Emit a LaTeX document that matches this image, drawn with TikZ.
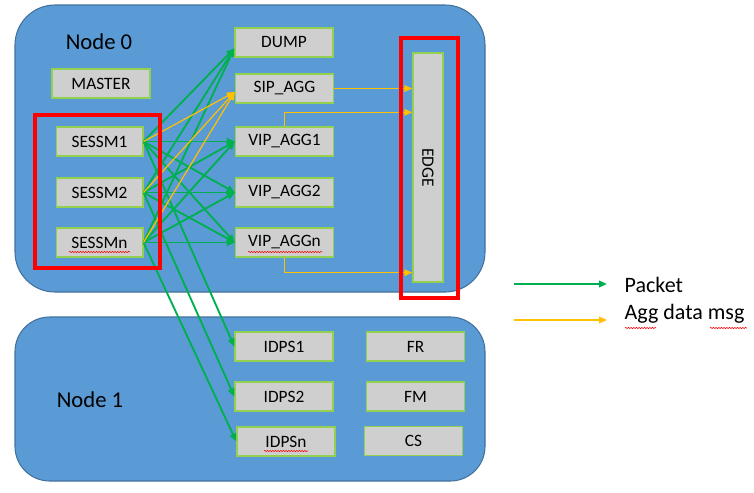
\documentclass[tikz,border=0pt]{standalone}
\usepackage{fontspec}
\setmainfont{Carlito}
\usetikzlibrary{arrows.meta,calc,decorations.pathmorphing}
\definecolor{nodeblue}{HTML}{5B9BD5}
\definecolor{nodeborder}{HTML}{41719C}
\definecolor{boxgray}{HTML}{CFCFCF}
\definecolor{boxborder}{HTML}{92D050}
\definecolor{pktgreen}{HTML}{00B050}
\definecolor{aggyellow}{HTML}{FFC000}
\definecolor{redmark}{HTML}{FF0000}
\tikzset{
  hostbox/.style={fill=nodeblue, draw=nodeborder, line width=0.8pt},
  procbox/.style={rectangle, fill=boxgray, draw=boxborder, line width=1pt,
    minimum width=73.5pt, minimum height=21.75pt, inner sep=0pt,
    font=\fontsize{13}{15}\selectfont},
  hostlabel/.style={font=\fontsize{17}{20}\selectfont},
  pkt/.style={draw=pktgreen, line width=1.4pt, -{Triangle[length=6pt,width=5pt]}},
  agg/.style={draw=aggyellow, line width=0.9pt, -{Triangle[length=6pt,width=5pt]}},
  redbox/.style={draw=redmark, line width=2.3pt},
  legendtext/.style={anchor=west, font=\fontsize{16.5}{19}\selectfont},
  spell/.style={draw=redmark, line width=0.4pt, decorate,
    decoration={snake, amplitude=0.5pt, segment length=2pt}}
}
\begin{document}
\begin{tikzpicture}[x=0.75pt,y=-0.75pt]
\useasboundingbox (0,0) rectangle (754,493);
\fill[white] (0,0) rectangle (754,493);
% host boxes
\draw[hostbox, rounded corners=30pt] (15,5) rectangle (485,292);
\draw[hostbox, rounded corners=26pt] (15,317) rectangle (485,481);
\node[hostlabel] (n0) at (99,42) {Node 0};
\node[hostlabel] (n1) at (90,400) {Node 1};
% node 0 processes
\node[procbox] (master) at (101,83.5) {MASTER};
\node[procbox, minimum width=65pt] (s1) at (99.5,141.5) {SESSM1};
\node[procbox, minimum width=65pt] (s2) at (99.5,192.5) {SESSM2};
\node[procbox, minimum width=65pt] (sn) at (99.5,242.5) {SESSMn};
\node[procbox] (dump) at (284,42.5) {DUMP};
\node[procbox] (sip) at (284.5,88.5) {SIP\_AGG};
\node[procbox] (v1) at (284.5,141.5) {VIP\_AGG1};
\node[procbox] (v2) at (284.5,192.5) {VIP\_AGG2};
\node[procbox] (vn) at (284.5,242.5) {VIP\_AGGn};
\node[procbox, minimum width=22.5pt, minimum height=171.75pt] (edge) at (428,167.5) {};
\node[rotate=-90, font=\fontsize{13}{15}\selectfont] (edgelbl) at (edge.center) {EDGE};
% node 1 processes
\node[procbox] (i1) at (284,346.5) {IDPS1};
\node[procbox] (i2) at (284,396.5) {IDPS2};
\node[procbox] (in) at (286,441.5) {IDPSn};
\node[procbox] (fr) at (415.5,346.5) {FR};
\node[procbox] (fm) at (415.5,396.5) {FM};
\node[procbox] (cs) at (413.5,441) {CS};
% green packet arrows
\foreach \s in {s1,s2,sn}{
  \draw[pkt] (\s.east) -- ([yshift=7pt]dump.south west);
  \draw[pkt] (\s.east) -- (v1.west);
  \draw[pkt] (\s.east) -- (v2.west);
  \draw[pkt] (\s.east) -- (vn.west);
}
\draw[pkt] (s1.east) -- (i1.west);
\draw[pkt] (s2.east) -- (i2.west);
\draw[pkt] (sn.east) -- (in.west);
% yellow agg arrows
\foreach \s in {s1,s2,sn}{
  \draw[agg] (\s.east) -- ([yshift=-2.6pt]sip.west);
}
\draw[agg] (sip.east) -- (sip.east -| edge.west);
\draw[agg] (v1.north) |- ($(edge.north west)+(0,60)$);
\draw[agg] (vn.south) |- ($(edge.south west)+(0,-10)$);
% red highlight boxes
\draw[redbox] (35,115) rectangle (160,268);
\draw[redbox] (401,38) rectangle (458,298);
% legend
\coordinate (lg1) at (514,284);
\coordinate (lg2) at (514,320);
\node[legendtext] (lpkt) at (620,285) {Packet};
\node[legendtext] (lagg) at (620,314) {Agg data msg};
\draw[pkt, line width=1.3pt] (lg1) -- (607,284);
\draw[agg] (lg2) -- (607,320);
% spell-check underlines
\draw[spell] (69,252) -- (130,252);
\draw[spell] (248,252) -- (322,252);
\draw[spell] (264,451) -- (308,451);
\draw[spell] (625,328) -- (656,328);
\draw[spell] (710,328) -- (747,328);
\end{tikzpicture}
\end{document}
